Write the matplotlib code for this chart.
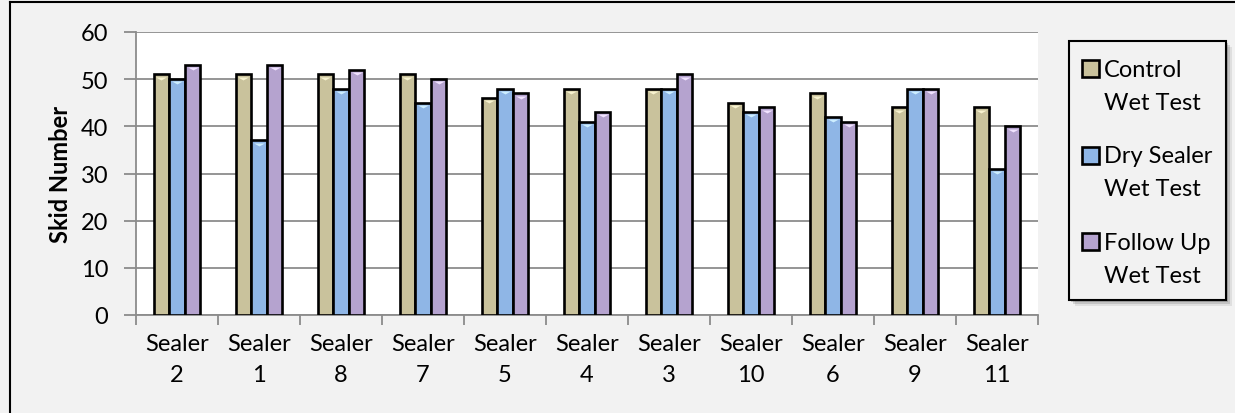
import matplotlib
matplotlib.use("Agg")
import matplotlib.pyplot as plt
import matplotlib.transforms as mtransforms
from matplotlib.patches import Rectangle
from matplotlib.lines import Line2D
from matplotlib.path import Path
import numpy as np

categories = ["Sealer\n2", "Sealer\n1", "Sealer\n8", "Sealer\n7", "Sealer\n5", "Sealer\n4",
              "Sealer\n3", "Sealer\n10", "Sealer\n6", "Sealer\n9", "Sealer\n11"]
control_wet = [51, 51, 51, 51, 46, 48, 48, 45, 47, 44, 44]
dry_sealer_wet = [50, 37, 48, 45, 48, 41, 48, 43, 42, 48, 31]
follow_up_wet = [53, 53, 52, 50, 47, 43, 51, 44, 41, 48, 40]
series_labels = ["Control\nWet Test", "Dry Sealer\nWet Test", "Follow Up\nWet Test"]
y_ticks = [0, 10, 20, 30, 40, 50, 60]

colors = ["#c9c29c", "#8fb6e6", "#b5a3cf"]
highlights = ["#f7f2cf", "#cdeeff", "#f1e3ff"]

plt.rcParams["font.family"] = ["Lato", "DejaVu Sans"]
FS = 17

W, H = 1235, 414
fig = plt.figure(figsize=(W / 100, H / 100), dpi=100)
fig.patch.set_facecolor("#f2f2f2")


def px(x, y):
    """Figure-fraction coordinates from pixel position (origin top-left)."""
    return x / W, 1 - y / H


# outer frame: left and top edges fall inside the canvas
fx, fy = px(9.5, 2.5)
fig.add_artist(Line2D([fx, fx], [0, fy], transform=fig.transFigure,
                      color="black", linewidth=1.5))
fig.add_artist(Line2D([fx, 1], [fy, fy], transform=fig.transFigure,
                      color="black", linewidth=1.5))

ax = fig.add_axes([136 / W, (H - 316) / H, 902 / W, 283 / H])
ax.set_facecolor("white")

# flat bevel highlight drawn just under the top edge of each bar
bevel = Path([(-1.0, 0.0), (1.0, 0.0), (0.0, -0.55), (-1.0, 0.0)],
             [Path.MOVETO, Path.LINETO, Path.LINETO, Path.CLOSEPOLY])

x = np.arange(len(categories))
bw = 0.19
series = [control_wet, dry_sealer_wet, follow_up_wet]
off = mtransforms.offset_copy(ax.transData, fig=fig, x=0, y=-2.2, units="dots")
for i, vals in enumerate(series):
    xs = x + (i - 1) * bw
    ax.bar(xs, vals, width=bw, color=colors[i], edgecolor="black", linewidth=1.9, zorder=3)
    ax.scatter(xs, vals, marker=bevel, s=60, color=highlights[i], linewidths=0,
               transform=off, zorder=4)

ax.set_xlim(-0.5, len(categories) - 0.5)
ax.set_ylim(0, 60)
ax.set_yticks(y_ticks)
ax.yaxis.grid(True, color="#8c8c8c", linewidth=1.3, zorder=1)
ax.set_axisbelow(True)

ax.set_xticks(np.arange(-0.5, len(categories)), labels=[""] * (len(categories) + 1))
ax.set_xticks(x, labels=categories, minor=True)
ax.tick_params(axis="x", which="major", length=7, color="#8c8c8c", width=1.3)
ax.tick_params(axis="x", which="minor", length=0, pad=13, labelsize=FS)
ax.tick_params(axis="y", length=9, color="#8c8c8c", width=1.3, labelsize=FS, pad=11)
for lbl in ax.get_xticklabels(minor=True):
    lbl.set_linespacing(1.6)

for s in ["top", "right"]:
    ax.spines[s].set_visible(False)
for s in ["left", "bottom"]:
    ax.spines[s].set_color("#8c8c8c")
    ax.spines[s].set_linewidth(1.3)

ax.set_ylabel("Skid Number", fontsize=FS, fontweight="bold")
ax.yaxis.set_label_coords(-0.071, 0.5)

# legend box with soft drop shadow
lx0, ly0, lx1, ly1 = 1069, 42, 1226, 301
for k, a in enumerate([0.08, 0.12, 0.18]):
    d = 6 - 2 * k
    fig.patches.append(Rectangle(px(lx0 + d, ly1 + d), (lx1 - lx0) / W, (ly1 - ly0) / H,
                                 transform=fig.transFigure, facecolor="black",
                                 edgecolor="none", alpha=a, zorder=5))
fig.patches.append(Rectangle(px(lx0, ly1), (lx1 - lx0) / W, (ly1 - ly0) / H,
                             transform=fig.transFigure, facecolor="#f2f2f2",
                             edgecolor="black", linewidth=1.5, zorder=6))
for i, lab in enumerate(series_labels):
    base = 77 + 86.5 * i
    fig.patches.append(Rectangle(px(1082, base + 1), 17 / W, 17 / H,
                                 transform=fig.transFigure, facecolor=colors[i],
                                 edgecolor="black", linewidth=1.9, zorder=7))
    first, second = lab.split("\n")
    fig.text(*px(1104, base), first, fontsize=FS, ha="left", va="baseline", zorder=8)
    fig.text(*px(1104, base + 33), second, fontsize=FS, ha="left", va="baseline", zorder=8)

fig.savefig("out.png", dpi=100, facecolor=fig.get_facecolor())
